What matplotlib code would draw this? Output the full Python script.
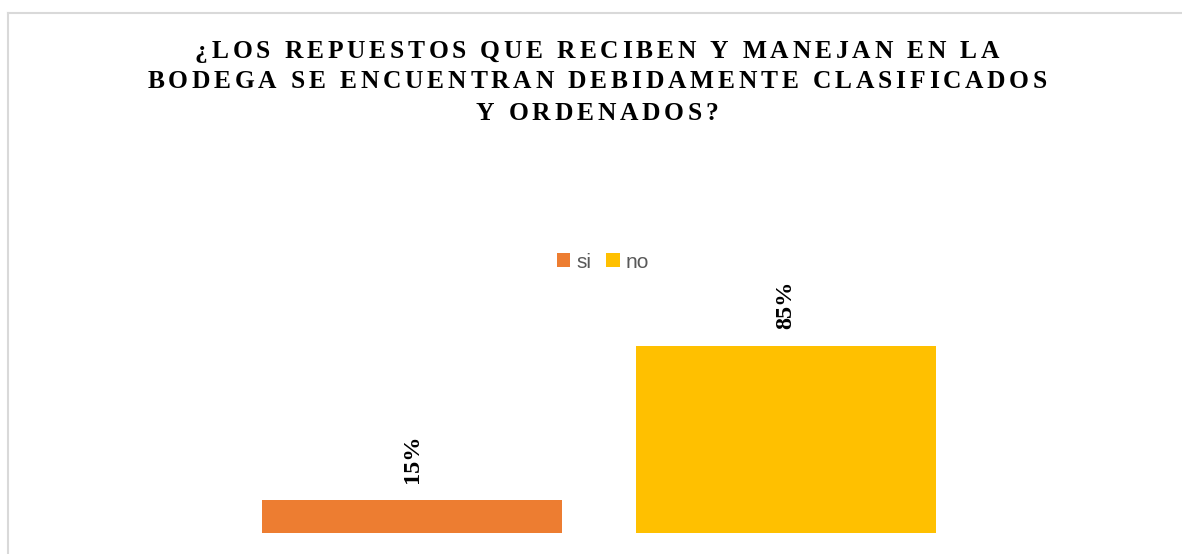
import matplotlib
matplotlib.use("Agg")
import matplotlib.pyplot as plt
from matplotlib.lines import Line2D
from matplotlib.font_manager import FontProperties, findfont
from matplotlib import ft2font

# ---- data ----
series = ["si", "no"]
values = [15, 85]
labels = ["15%", "85%"]
colors = ["#ED7D31", "#FFC000"]
title_lines = [
    "¿LOS REPUESTOS QUE RECIBEN Y MANEJAN EN LA",
    "BODEGA SE ENCUENTRAN DEBIDAMENTE CLASIFICADOS",
    "Y ORDENADOS?",
]

W, H, DPI = 1182, 554, 100
fig = plt.figure(figsize=(W / DPI, H / DPI), dpi=DPI)
fig.patch.set_facecolor("white")

# frame lines (top and left visible)
fig.add_artist(Line2D([8 / W, 1], [1 - 13 / H, 1 - 13 / H], transform=fig.transFigure,
                      color="#D9D9D9", lw=1.5))
fig.add_artist(Line2D([8 / W, 8 / W], [0, 1 - 13 / H], transform=fig.transFigure,
                      color="#D9D9D9", lw=1.5))

# axes: 0..100 mapped to 220 px above y=533
ax = fig.add_axes([0, (H - 533) / H, 1, 220 / H])
ax.set_ylim(0, 100)
ax.set_xlim(-412 / 374, (W - 412) / 374)
bars = []
for i, (s, v, c) in enumerate(zip(series, values, colors)):
    b = ax.bar([i], [v], width=300 / 374, color=c, label=s)
    bars.append(b)
    ax.bar_label(b, labels=[labels[i]], rotation=90, padding=12, fontsize=17.5,
                 fontweight="bold", family="Liberation Serif", color="black")
ax.axis("off")

# legend
fig.legend(handles=[b.patches[0] for b in bars], labels=series, loc="center",
           bbox_to_anchor=(603 / W, 1 - 262 / H), ncol=2, frameon=False,
           handlelength=0.65, handleheight=0.65, handletextpad=0.3,
           columnspacing=0.7, labelcolor="#595959",
           prop={"family": "Liberation Sans", "size": 15})

# title with letter spacing
tsize = 18.4
fp = FontProperties(family="Liberation Serif", weight="bold", size=tsize)
font = ft2font.FT2Font(findfont(fp))
font.set_size(tsize, DPI)

def adv(ch):
    g = font.load_char(ord(ch))
    return g.linearHoriAdvance / 65536.0

spacing = 3.8
baselines = [58, 88, 120]
cx = 597
for line, by in zip(title_lines, baselines):
    widths = [adv(ch) for ch in line]
    total = sum(widths) + spacing * (len(line) - 1)
    x = cx - total / 2
    for ch, w in zip(line, widths):
        if ch != " ":
            fig.text(x / W, 1 - by / H, ch, fontproperties=fp, ha="left",
                     va="baseline", color="black")
        x += w + spacing

fig.savefig("out.png", dpi=DPI, facecolor="white")
